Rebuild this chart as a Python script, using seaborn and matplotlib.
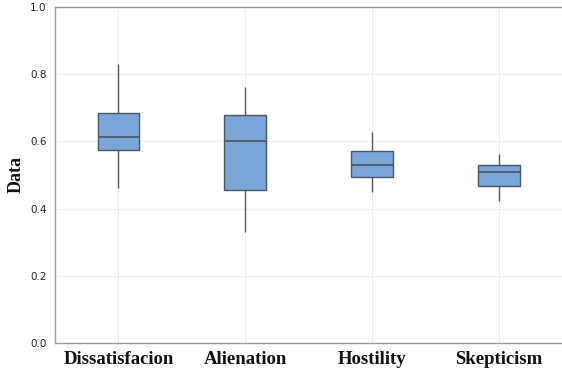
import numpy as np
import pandas as pd
import matplotlib
matplotlib.use("Agg")
import matplotlib.pyplot as plt
import seaborn as sns

# five-number summaries (min, Q1, median, Q3, max)
CATEGORIES = ["Dissatisfacion", "Alienation", "Hostility", "Skepticism"]
DISSATISFACION = [0.462, 0.574, 0.613, 0.684, 0.830]
ALIENATION = [0.331, 0.454, 0.600, 0.678, 0.763]
HOSTILITY = [0.450, 0.495, 0.529, 0.571, 0.628]
SKEPTICISM = [0.424, 0.467, 0.508, 0.531, 0.562]
Y_TICKS = [0.0, 0.2, 0.4, 0.6, 0.8, 1.0]

values = [DISSATISFACION, ALIENATION, HOSTILITY, SKEPTICISM]
df = pd.DataFrame({
    "group": np.repeat(CATEGORIES, [len(v) for v in values]),
    "Data": np.concatenate(values),
})

sns.set_style("white")
fig = plt.figure(figsize=(5.62, 3.69), dpi=100)
ax = fig.add_axes([0.098, 0.0705, 0.902, 0.9105])

edge = "#4a5563"
sns.boxplot(data=df, x="group", y="Data", order=CATEGORIES, whis=(0, 100),
            width=0.33, color="#7aa6da", saturation=1, linewidth=1.0,
            boxprops=dict(edgecolor=edge),
            medianprops=dict(color=edge, linewidth=1.2),
            whiskerprops=dict(color="#555555", linewidth=1.0),
            capprops=dict(linewidth=0), ax=ax)

ax.set_ylim(0, 1.0)
ax.set_xlim(-0.5, 3.5)
ax.set_yticks(Y_TICKS)
ax.set_yticklabels([f"{t:.1f}" for t in Y_TICKS], fontsize=7.5, color="#222222",
                   fontfamily="DejaVu Sans")
ax.grid(True, color="#ececec", linewidth=0.7)
ax.set_axisbelow(True)

for lab in ax.get_xticklabels():
    lab.set_fontfamily("Liberation Serif")
    lab.set_fontweight("bold")
    lab.set_fontsize(13.5)
    lab.set_color("#111111")
ax.set_xlabel("")
ax.set_ylabel("Data", fontfamily="Liberation Serif", fontweight="bold", fontsize=13,
              color="#111111")

for side in ["left", "bottom", "top"]:
    ax.spines[side].set_color("#9a9a9a")
    ax.spines[side].set_linewidth(1.0)
ax.spines["right"].set_visible(False)
ax.tick_params(axis="y", length=4, width=0.8, color="#9a9a9a", pad=2)
ax.tick_params(axis="x", length=2.5, width=0.8, color="#9a9a9a", pad=3)

plt.savefig("out.png", dpi=100)
plt.close()
